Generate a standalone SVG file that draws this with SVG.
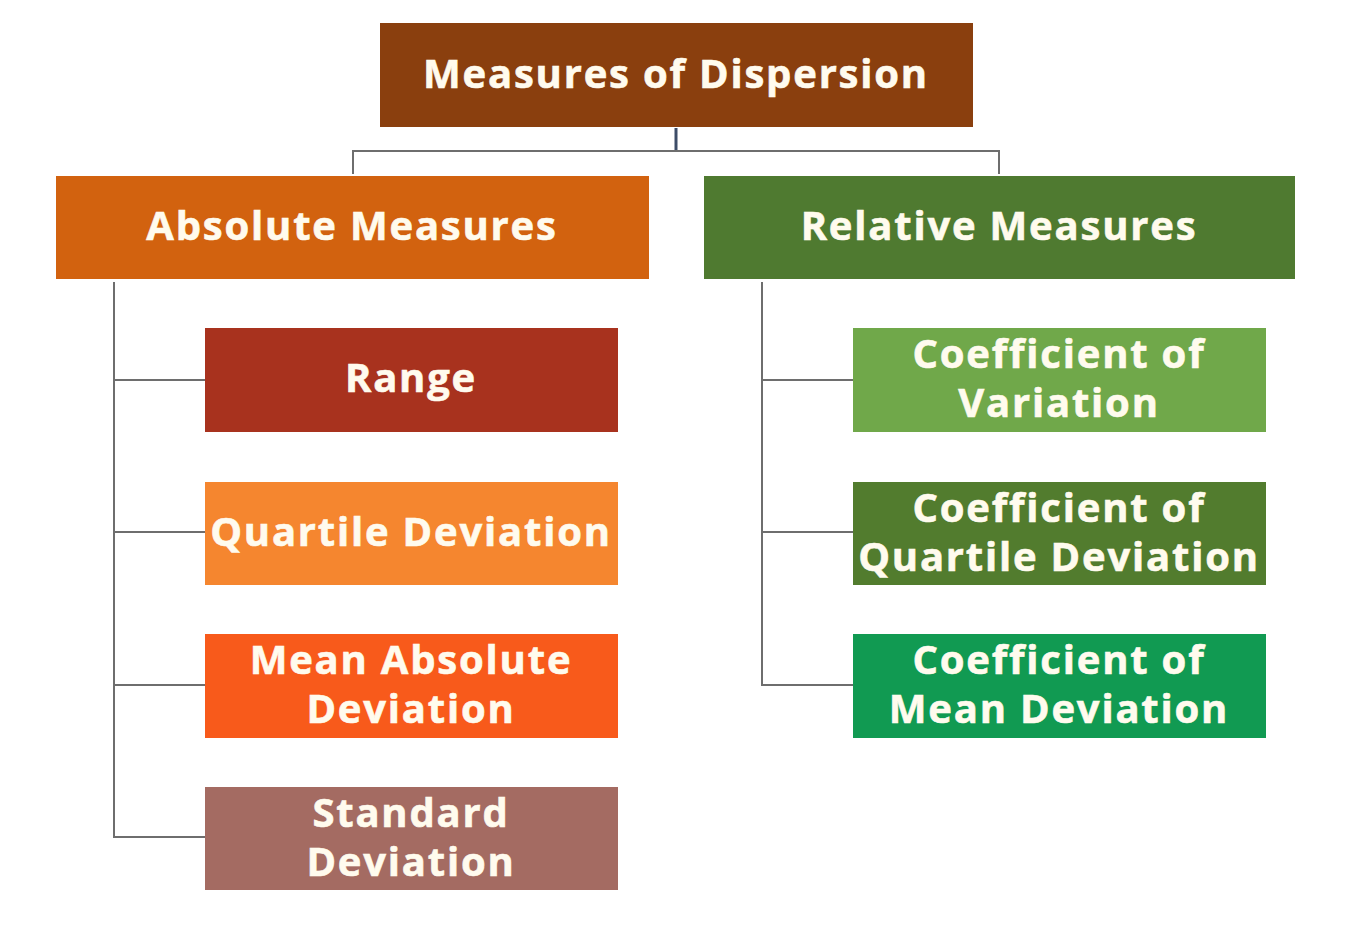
<svg xmlns="http://www.w3.org/2000/svg" width="1372" height="933" viewBox="0 0 1372 933">
<style>
.t{font-family:"Open Sans","Liberation Sans",sans-serif;font-weight:bold;font-size:40px;letter-spacing:1.8px;fill:#fffbee;stroke:#fffbee;stroke-width:0.6px;text-anchor:middle}
.c{stroke:#6e6e6e;stroke-width:2;fill:none}
</style>
<rect width="1372" height="933" fill="#ffffff"/>
<g id="connectors">
<path d="M676 128V151" stroke="#3d4d68" stroke-width="3" fill="none"/>
<path class="c" d="M353 174V151H999V174"/>
<path class="c" d="M114 282V837H205M114 380H205M114 532H205M114 685H205"/>
<path class="c" d="M762 282V685H853M762 380H853M762 532H853"/>
</g>
<g id="root"><rect x="380" y="23" width="593" height="104" fill="#8a3f0e"/><text class="t" x="676" y="88">Measures of Dispersion</text></g>
<g id="absolute"><rect x="56" y="176" width="593" height="103" fill="#d2620f"/><text class="t" x="352" y="240">Absolute Measures</text></g>
<g id="relative"><rect x="704" y="176" width="591" height="103" fill="#4f7a30"/><text class="t" x="999" y="240">Relative Measures</text></g>
<g id="range"><rect x="205" y="328" width="413" height="104" fill="#a8321e"/><text class="t" x="411" y="392">Range</text></g>
<g id="quartile"><rect x="205" y="482" width="413" height="103" fill="#f5862f"/><text class="t" x="411" y="546">Quartile Deviation</text></g>
<g id="mad"><rect x="205" y="634" width="413" height="104" fill="#f85a1b"/><text class="t" x="411" y="674">Mean Absolute</text><text class="t" x="411" y="723">Deviation</text></g>
<g id="sd"><rect x="205" y="787" width="413" height="103" fill="#a46b62"/><text class="t" x="411" y="827">Standard</text><text class="t" x="411" y="876">Deviation</text></g>
<g id="cv"><rect x="853" y="328" width="413" height="104" fill="#70a84a"/><text class="t" x="1059" y="368">Coefficient of</text><text class="t" x="1059" y="417">Variation</text></g>
<g id="cqd"><rect x="853" y="482" width="413" height="103" fill="#527c2e"/><text class="t" x="1059" y="522">Coefficient of</text><text class="t" x="1059" y="571">Quartile Deviation</text></g>
<g id="cmd"><rect x="853" y="634" width="413" height="104" fill="#119a52"/><text class="t" x="1059" y="674">Coefficient of</text><text class="t" x="1059" y="723">Mean Deviation</text></g>
</svg>
